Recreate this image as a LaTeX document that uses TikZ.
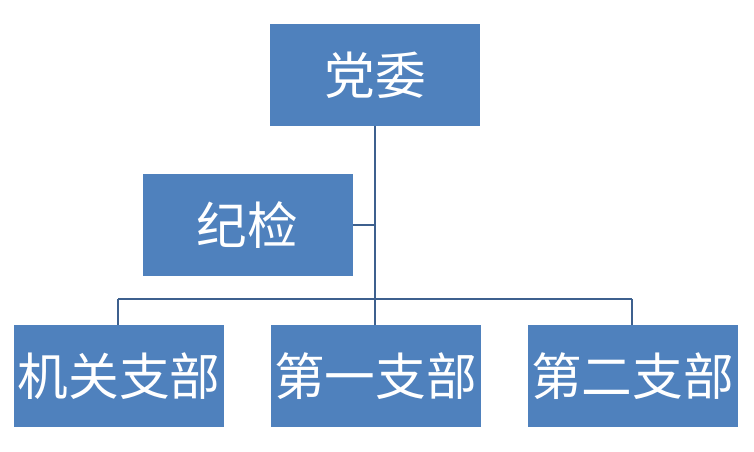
\documentclass[tikz,border=0pt]{standalone}
\usepackage{fontspec}
\usepackage{xcolor}
\usepackage{tikz}
\usetikzlibrary{positioning, calc}
\newfontfamily\cjk{Noto Sans CJK SC}
\definecolor{boxblue}{RGB}{79,129,189}
\definecolor{linkblue}{RGB}{61,96,142}
\tikzset{
  orgbox/.style={rectangle, fill=boxblue, draw=none, minimum width=157.5pt, minimum height=76.5pt, inner sep=0pt, text=white, font=\cjk\fontsize{38}{42}\selectfont},
  link/.style={line width=2.2pt, color=linkblue}
}
\begin{document}
\begin{tikzpicture}[x=0.75pt, y=-0.75pt]
  \useasboundingbox (0,0) rectangle (754,452);

  % Top and side boxes
  \node[orgbox] (dangwei) at (375,75) {党委};
  \node[orgbox] (jijian) at (247.5,225) {纪检};

  % Branch boxes
  \node[orgbox] (jiguan) at (119,376) {机关支部};
  \node[orgbox] (diyi) at (375.5,376) {第一支部};
  \node[orgbox] (dier) at (632.5,376) {第二支部};

  % Bus points
  \coordinate (bus) at (375,299);
  \coordinate (busL) at (118,299);
  \coordinate (busR) at (632,299);
  \coordinate (side) at (375,225);

  % Connectors
  \draw[link] (dangwei.south) -- (bus);
  \draw[link] (jijian.east) -- (side);
  \draw[link] (busL) -- (busR);
  \draw[link] (busL) -- (busL |- jiguan.north);
  \draw[link] (bus) -- (bus |- diyi.north);
  \draw[link] (busR) -- (busR |- dier.north);
\end{tikzpicture}
\end{document}
